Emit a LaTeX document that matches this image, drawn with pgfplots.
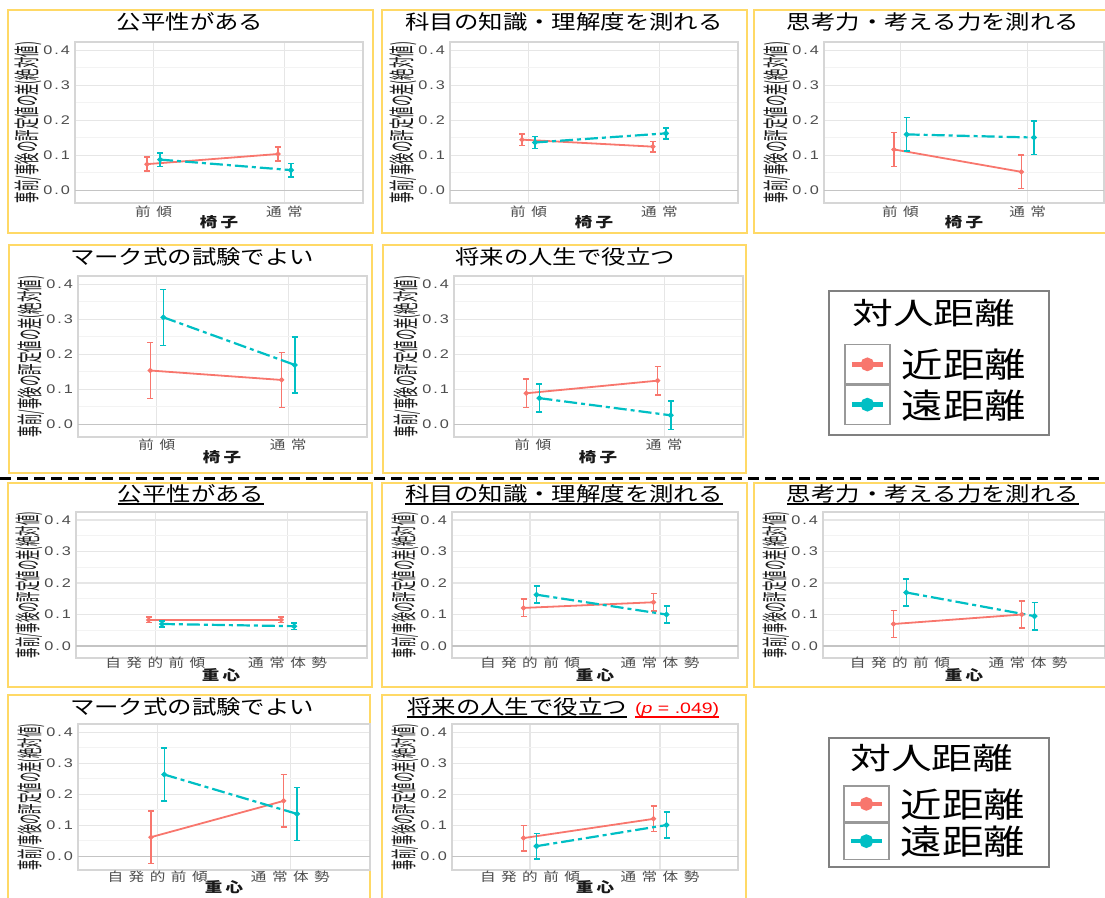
\documentclass[border=0pt]{standalone}
\usepackage{pgfplots}
\pgfplotsset{compat=1.18}
\usepackage{fontspec}
\usepackage{graphicx}
\setmainfont{Liberation Sans}
\newfontfamily\jp{Noto Sans CJK JP}
\newfontfamily\jpa[LetterSpace=35]{Noto Sans CJK JP}
\newfontfamily\jpb[LetterSpace=20]{Noto Sans CJK JP}
\newfontfamily\numa[LetterSpace=12]{Liberation Sans}
\definecolor{redc}{HTML}{F8766D}
\definecolor{cyanc}{HTML}{00BFC4}
\definecolor{gold}{HTML}{FFD966}
\definecolor{gridc}{HTML}{E6E6E6}
\definecolor{gridm}{HTML}{F3F3F3}
\definecolor{zeroc}{HTML}{C4C4C4}
\definecolor{borderc}{HTML}{D6D6D6}
\definecolor{tickc}{HTML}{4D4D4D}
\newcommand\tkx[1]{\scalebox{1.25}[1]{\jpa\fontsize{12.5}{13}\selectfont #1}}
\newcommand\tky[1]{\scalebox{1.3}[1]{\numa\fontsize{12.5}{13}\selectfont #1}}
\newcommand\ttl[3]{\node[inner sep=0pt] at (#1,-#2) {\scalebox{1.22}[1]{\jp\fontsize{20}{20}\selectfont #3}};}
\newcommand\uttl[3]{\node[inner sep=0pt] (ut) at (#1,-#2) {\scalebox{1.22}[1]{\jp\fontsize{20}{20}\selectfont #3}};
  \draw[line width=1.3pt] ([yshift=-10pt]ut.west) -- ([yshift=-10pt]ut.east);}
\newcommand\xl[3]{\node[inner sep=0pt, text=black!90] at (#1,-#2) {\scalebox{1.25}[1]{\jpb\bfseries\fontsize{14}{14}\selectfont #3}};}
\newcommand\yl[3]{\node[inner sep=0pt, rotate=90, text=black!90] at (#1,-#2) {\resizebox{#3pt}{22pt}{\jp\fontsize{22}{22}\selectfont 事前/事後の評定値の差(絶対値)}};}
\pgfplotsset{
  pan/.style={
    scale only axis, anchor=south west,
    xmin=-0.6, xmax=1.6,
    xtick={0,1},
    ytick={0,0.1,0.2,0.3,0.4},
    yticklabels={\tky{0.0},\tky{0.1},\tky{0.2},\tky{0.3},\tky{0.4}},
    minor ytick={0.05,0.15,0.25,0.35},
    xmajorgrids, ymajorgrids, yminorgrids,
    major grid style={draw=gridc, line width=1.1pt},
    minor grid style={draw=gridm, line width=0.7pt},
    extra y ticks={0}, extra y tick labels={},
    extra y tick style={major grid style={draw=zeroc, line width=1.1pt}},
    axis line style={draw=borderc, line width=1.3pt},
    major tick length=0pt, minor tick length=0pt,
    yticklabel style={anchor=east, inner sep=0pt, xshift=-5pt, text=tickc},
    xticklabel style={anchor=center, inner sep=0pt, text=tickc},
  },
  ra/.style={pan, height=161pt, ymin=-0.037, ymax=0.423, xticklabels={\tkx{前傾},\tkx{通常}}},
  rb/.style={pan, height=146pt, xticklabels={\tkx{自発的前傾},\tkx{通常体勢}}},
  rs/.style={color=redc, line width=1.8pt, mark=*, mark size=1.6pt,
    error bars/y dir=both, error bars/y explicit,
    error bars/error bar style={line width=1.5pt, solid},
    error bars/error mark options={rotate=90, mark size=3pt, line width=1.5pt, solid}},
  cs/.style={color=cyanc, line width=2.2pt, dash pattern=on 13pt off 4pt on 4pt off 4pt, mark=*, mark size=1.6pt, mark options={solid},
    error bars/y dir=both, error bars/y explicit,
    error bars/error bar style={line width=1.5pt, solid},
    error bars/error mark options={rotate=90, mark size=3pt, line width=1.5pt, solid}},
  legkey/.style={legend image code/.code={
    \draw[draw=gray!80, line width=1.3pt, fill=white, solid] (0pt,-#1) rectangle (45pt,#1);
    \draw[line width=4.5pt, solid, mark=*, mark size=4.5pt, mark repeat=2, mark phase=2] plot coordinates {(7pt,0pt) (22.5pt,0pt) (38pt,0pt)};
  }},
}
\begin{document}
\begin{tikzpicture}[x=1pt,y=1pt]
\useasboundingbox (0,0) rectangle (1105,-897);
% frames
\begin{scope}[draw=gold, line width=1.5pt]
\draw (8,-10) rectangle (373,-233);
\draw (382,-10) rectangle (747,-233);
\draw (754,-10) rectangle (1108,-233);
\draw (9,-245) rectangle (372,-473);
\draw (383,-245) rectangle (746,-473);
\draw (8,-483) rectangle (372,-687);
\draw (382,-483) rectangle (747,-687);
\draw (754,-483) rectangle (1108,-687);
\draw (8,-695) rectangle (370,-900);
\draw (382,-695) rectangle (746,-900);
\end{scope}
\draw[black, line width=3pt, dash pattern=on 11pt off 6pt] (0,-478) -- (1105,-478);

% ---------- Row 1 ----------
\begin{axis}[ra, width=288pt, at={(75pt,-203pt)}, xticklabel style={yshift=-9pt}]
\addplot[rs] coordinates {(-0.05,0.074) +- (0,0.020) (0.95,0.103) +- (0,0.020)};
\addplot[cs] coordinates {(0.05,0.087) +- (0,0.019) (1.05,0.057) +- (0,0.019)};
\end{axis}
\begin{axis}[ra, width=288pt, at={(450pt,-203pt)}, xticklabel style={yshift=-9pt}]
\addplot[rs] coordinates {(-0.05,0.144) +- (0,0.016) (0.95,0.124) +- (0,0.015)};
\addplot[cs] coordinates {(0.05,0.136) +- (0,0.017) (1.05,0.162) +- (0,0.016)};
\end{axis}
\begin{axis}[ra, width=280pt, at={(824pt,-203pt)}, xticklabel style={yshift=-9pt}]
\addplot[rs] coordinates {(-0.05,0.116) +- (0,0.048) (0.95,0.052) +- (0,0.048)};
\addplot[cs] coordinates {(0.05,0.159) +- (0,0.048) (1.05,0.150) +- (0,0.048)};
\end{axis}
% ---------- Row 2 ----------
\begin{axis}[ra, width=289pt, at={(78pt,-437pt)}, xticklabel style={yshift=-8pt}]
\addplot[rs] coordinates {(-0.05,0.153) +- (0,0.080) (0.95,0.126) +- (0,0.079)};
\addplot[cs] coordinates {(0.05,0.305) +- (0,0.080) (1.05,0.169) +- (0,0.080)};
\end{axis}
\begin{axis}[ra, width=289pt, at={(454pt,-437pt)}, xticklabel style={yshift=-8pt}]
\addplot[rs] coordinates {(-0.05,0.088) +- (0,0.041) (0.95,0.124) +- (0,0.041)};
\addplot[cs] coordinates {(0.05,0.074) +- (0,0.040) (1.05,0.025) +- (0,0.041)};
\end{axis}
% ---------- Row 3 ----------
\begin{axis}[rb, ymin=-0.038, ymax=0.4255, width=291pt, at={(76pt,-658pt)}, xticklabel style={yshift=-5pt}]
\addplot[rs] coordinates {(-0.05,0.083) +- (0,0.009) (0.95,0.083) +- (0,0.009)};
\addplot[cs] coordinates {(0.05,0.070) +- (0,0.009) (1.05,0.063) +- (0,0.010)};
\end{axis}
\begin{axis}[rb, ymin=-0.038, ymax=0.4255, width=286pt, at={(452pt,-658pt)}, xticklabel style={yshift=-5pt}]
\addplot[rs] coordinates {(-0.05,0.121) +- (0,0.028) (0.95,0.139) +- (0,0.028)};
\addplot[cs] coordinates {(0.05,0.163) +- (0,0.027) (1.05,0.100) +- (0,0.027)};
\end{axis}
\begin{axis}[rb, ymin=-0.038, ymax=0.4255, width=282pt, at={(823pt,-658pt)}, xticklabel style={yshift=-5pt}]
\addplot[rs] coordinates {(-0.05,0.070) +- (0,0.043) (0.95,0.100) +- (0,0.043)};
\addplot[cs] coordinates {(0.05,0.170) +- (0,0.043) (1.05,0.095) +- (0,0.044)};
\end{axis}
% ---------- Row 4 ----------
\begin{axis}[rb, ymin=-0.045, ymax=0.426, width=292pt, at={(78pt,-870pt)}, xticklabel style={yshift=-7pt}]
\addplot[rs] coordinates {(-0.05,0.061) +- (0,0.085) (0.95,0.178) +- (0,0.085)};
\addplot[cs] coordinates {(0.05,0.263) +- (0,0.085) (1.05,0.136) +- (0,0.085)};
\end{axis}
\begin{axis}[rb, ymin=-0.045, ymax=0.426, width=286pt, at={(452pt,-870pt)}, xticklabel style={yshift=-7pt}]
\addplot[rs] coordinates {(-0.05,0.058) +- (0,0.041) (0.95,0.120) +- (0,0.041)};
\addplot[cs] coordinates {(0.05,0.032) +- (0,0.041) (1.05,0.100) +- (0,0.042)};
\end{axis}

% titles
\ttl{190}{22}{公平性がある}
\ttl{564}{22}{科目の知識・理解度を測れる}
\ttl{933}{22}{思考力・考える力を測れる}
\ttl{192}{257}{マーク式の試験でよい}
\ttl{565}{257}{将来の人生で役立つ}
\uttl{191}{494}{公平性がある}
\uttl{564}{494}{科目の知識・理解度を測れる}
\uttl{933}{494}{思考力・考える力を測れる}
\ttl{192}{707}{マーク式の試験でよい}
\node[inner sep=0pt, anchor=west] (t10) at (407,-707) {\scalebox{1.22}[1]{\jp\fontsize{20}{20}\selectfont 将来の人生で役立つ}};
\draw[line width=1.3pt] ([yshift=-10pt]t10.west) -- ([yshift=-10pt]t10.east);
\node[inner sep=0pt, anchor=west, text=red] (p10) at (635,-710) {\scalebox{1.3}[1]{\fontsize{15}{15}\selectfont(\textit{p} = .049)}};
\draw[red, line width=1.2pt] (p10.west |- 0,-717) -- (p10.east |- 0,-717);

% x labels
\xl{219}{222}{椅子}
\xl{594}{222}{椅子}
\xl{964}{222}{椅子}
\xl{222}{457}{椅子}
\xl{598}{457}{椅子}
\xl{221}{675}{重心}
\xl{595}{675}{重心}
\xl{964}{675}{重心}
\xl{224}{887}{重心}
\xl{595}{887}{重心}
% y labels
\yl{28}{122.5}{161}
\yl{403}{122.5}{161}
\yl{777}{122.5}{161}
\yl{31}{356.5}{161}
\yl{407}{356.5}{161}
\yl{29}{585}{146}
\yl{405}{585}{146}
\yl{776}{585}{146}
\yl{31}{797}{146}
\yl{405}{797}{146}

% legends
\draw[gray, line width=1.3pt] (829,-291) rectangle (1049,-435);
\node[inner sep=0pt, anchor=west] at (852,-313) {\scalebox{1.36}[1]{\jp\fontsize{30}{30}\selectfont 対人距離}};
\begin{axis}[hide axis, scale only axis, width=1105pt, height=897pt, at={(0pt,-897pt)}, anchor=south west,
  xmin=0, xmax=1105, ymin=-897, ymax=0,
  legend style={at={(axis cs:844,-344)}, anchor=north west, draw=none, fill=none, inner sep=0pt, row sep=0pt,
     font=\jp\fontsize{34}{34}\selectfont, nodes={inner sep=0pt}},
  legend cell align=left]
\addlegendimage{legkey=19.5pt, color=redc}
\addlegendentry{\hspace{11pt}\scalebox{1.22}[1]{近距離}}
\addlegendimage{legkey=19.5pt, color=cyanc}
\addlegendentry{\hspace{11pt}\scalebox{1.22}[1]{遠距離}}
\end{axis}
\draw[gray, line width=1.3pt] (829,-738) rectangle (1049,-867);
\node[inner sep=0pt, anchor=west] at (850,-758) {\scalebox{1.36}[1]{\jp\fontsize{30}{30}\selectfont 対人距離}};
\begin{axis}[hide axis, scale only axis, width=1105pt, height=897pt, at={(0pt,-897pt)}, anchor=south west,
  xmin=0, xmax=1105, ymin=-897, ymax=0,
  legend style={at={(axis cs:843,-785)}, anchor=north west, draw=none, fill=none, inner sep=0pt, row sep=0pt,
     font=\jp\fontsize{34}{34}\selectfont, nodes={inner sep=0pt}},
  legend cell align=left]
\addlegendimage{legkey=18pt, color=redc}
\addlegendentry{\hspace{11pt}\scalebox{1.22}[1]{近距離}}
\addlegendimage{legkey=18pt, color=cyanc}
\addlegendentry{\hspace{11pt}\scalebox{1.22}[1]{遠距離}}
\end{axis}
\end{tikzpicture}
\end{document}
